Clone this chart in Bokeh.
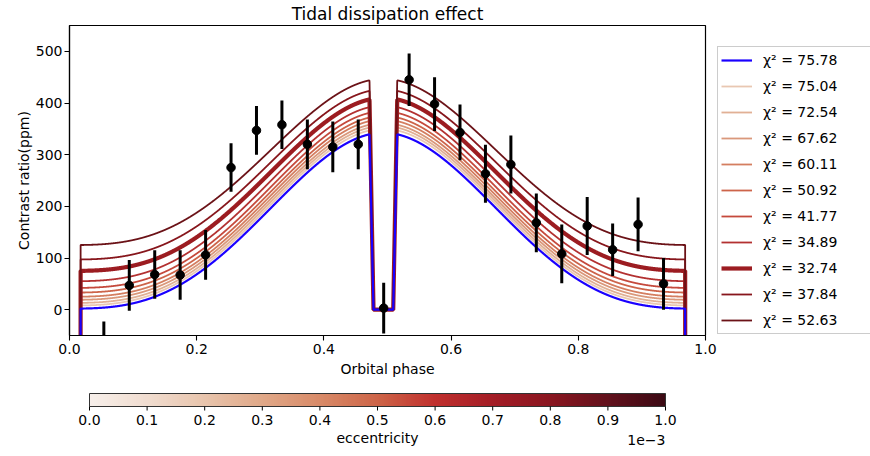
import numpy as np
from bokeh.plotting import figure
from bokeh.models import (Legend, LegendItem, FixedTicker, CustomJSTickFormatter,
                          Range1d, LinearColorMapper, Label)
from bokeh.core.properties import value
from bokeh.embed import file_html
from bokeh.resources import INLINE

# ---------------- data ----------------
obs_phase = [0.054, 0.094, 0.134, 0.174, 0.214, 0.254, 0.294, 0.334, 0.374, 0.414, 0.454,
             0.494, 0.534, 0.574, 0.614, 0.654, 0.694, 0.734, 0.774, 0.814, 0.854, 0.894, 0.934]
obs_ppm = [-73, 47, 68, 67, 106, 275, 347, 358, 320, 315, 320,
           3, 445, 398, 343, 263, 281, 168, 108, 162, 116, 165, 50]
obs_err = [50, 49, 47, 48, 48, 47, 47, 47, 48, 49, 48,
           49, 51, 52, 54, 56, 56, 57, 57, 56, 51, 52, 50]

chi2_labels = ["75.78", "75.04", "72.54", "67.62", "60.11", "50.92",
               "41.77", "34.89", "32.74", "37.84", "52.63"]
# nightside level (ppm) and level just before eclipse ingress (ppm) of each model curve
night_ppm = [2, 8, 13, 19, 25, 33, 42, 55, 75, 97, 125]
peak_ppm = [339.5, 347, 352.5, 358, 365, 372, 381, 392, 407, 423.5, 444]
line_colors = ["#1a00ff", "#e9c7b2", "#e1b095", "#da987b", "#d47e60", "#cd644a",
               "#c5493c", "#b33131", "#9c1c21", "#87161c", "#6b1217"]
line_widths = [2.2, 1.8, 1.8, 1.8, 1.8, 1.8, 1.8, 1.8, 4.2, 1.8, 1.8]

# orbital timing
ecl_center, ecl_half, ecl_flat_half = 0.4935, 0.0218, 0.0155
tr_center, tr_half, tr_flat_half, tr_depth = 0.99275, 0.02475, 0.019, 10000.0
peak_phase = 0.472

xticks = [0.0, 0.2, 0.4, 0.6, 0.8, 1.0]
yticks = [0, 100, 200, 300, 400, 500]
cb_ticks = [0.0, 0.1, 0.2, 0.3, 0.4, 0.5, 0.6, 0.7, 0.8, 0.9, 1.0]
cb_stops = ["#f7efea", "#f0dccf", "#e8c4ac", "#e0a888", "#d88a68", "#cd6448",
            "#c0302e", "#a41d26", "#8a1620", "#62111c", "#3c0a14"]

FONT = "DejaVu Sans"

# ---------------- model (Lambert phase curve + eclipse + transit) ----------------
def lambert(ph):
    a = 2 * np.pi * np.abs(((ph - (ecl_center - 0.5)) % 1.0) - 0.5)
    return (np.sin(a) + (np.pi - a) * np.cos(a)) / np.pi

grid = np.linspace(0.0, 1.0, 4001)
shape = lambert(grid) / lambert(np.array([peak_phase]))[0]
d_ecl = np.abs(grid - ecl_center)
ecl_fac = np.clip((d_ecl - ecl_flat_half) / (ecl_half - ecl_flat_half), 0, 1)
d_tr = np.abs(((grid - tr_center + 0.5) % 1.0) - 0.5)
tr_fac = np.clip((tr_half - d_tr) / (tr_half - tr_flat_half), 0, 1)

# ---------------- main figure ----------------
p = figure(frame_width=636, frame_height=310, min_border_left=69, min_border_right=165,
           min_border_top=25, min_border_bottom=45,
           x_range=Range1d(0, 1), y_range=Range1d(-50, 550),
           toolbar_location=None, output_backend="svg", title="Tidal dissipation effect")
p.title.align = "center"
p.title.text_font = FONT
p.title.text_font_size = "17px"
p.title.text_font_style = "normal"
p.title.text_color = "black"
p.title.standoff = 3
p.xgrid.visible = False
p.ygrid.visible = False
p.outline_line_color = "black"
p.outline_line_width = 1.2
p.outline_line_alpha = 1
p.background_fill_color = "white"
p.border_fill_color = "white"

p.xaxis.ticker = FixedTicker(ticks=xticks)
p.xaxis.formatter = CustomJSTickFormatter(code="return tick.toFixed(1)")
p.yaxis.ticker = FixedTicker(ticks=yticks)
for ax in (p.xaxis[0], p.yaxis[0]):
    ax.axis_line_color = "black"
    ax.axis_line_width = 1.2
    ax.major_tick_line_color = "black"
    ax.major_tick_line_width = 1.1
    ax.major_tick_out = 5
    ax.major_tick_in = 0
    ax.minor_tick_line_color = None
    ax.major_label_text_font = FONT
    ax.major_label_text_font_size = "14px"
    ax.major_label_text_color = "black"
    ax.axis_label_text_font = FONT
    ax.axis_label_text_font_size = "14px"
    ax.axis_label_text_font_style = "normal"
    ax.axis_label_text_color = "black"
p.xaxis.axis_label = "Orbital phase"
p.yaxis.axis_label = "Contrast ratio(ppm)"
p.xaxis.major_label_standoff = 3
p.xaxis.axis_label_standoff = 4
p.yaxis.major_label_standoff = 2
p.yaxis.axis_label_standoff = 1

renderers = [None] * len(chi2_labels)
order = list(range(1, len(chi2_labels))) + [0]   # blue model drawn on top
for i in order:
    flux = (night_ppm[i] + (peak_ppm[i] - night_ppm[i]) * shape) * ecl_fac - tr_depth * tr_fac
    renderers[i] = p.line(grid, flux, line_color=line_colors[i], line_width=line_widths[i])

lo = [v - e for v, e in zip(obs_ppm, obs_err)]
hi = [v + e for v, e in zip(obs_ppm, obs_err)]
p.segment(x0=obs_phase, y0=lo, x1=obs_phase, y1=hi, line_color="black", line_width=3)
p.scatter(obs_phase, obs_ppm, size=8.5, color="black")

items = [LegendItem(label="\u03c7\u00b2 = " + lab, renderers=[renderers[i]])
         for i, lab in enumerate(chi2_labels)]
legend = Legend(items=items, location=(12, 1), orientation="vertical",
                label_text_font=FONT, label_text_font_size="14px", label_text_color="black",
                glyph_width=31, glyph_height=20, label_height=20, label_width=108,
                spacing=6, padding=3, margin=0, label_standoff=11,
                border_line_color="#cccccc", border_line_width=1, border_line_alpha=1,
                background_fill_color="white", background_fill_alpha=1)
p.add_layout(legend, "right")

# ---------------- colorbar figure (drawn in pixel-like layout units) ----------------
def hex2rgb(h):
    return [int(h[k:k + 2], 16) for k in (1, 3, 5)]

stops = np.array([hex2rgb(c) for c in cb_stops], dtype=float)
pos = np.linspace(0, 1, len(cb_stops))
t = np.linspace(0, 1, 256)
palette = ["#%02x%02x%02x" % tuple(int(round(np.interp(tt, pos, stops[:, k]))) for k in range(3))
           for tt in t]

CB_W, CB_H = 870, 66
bar_left_px, bar_w_px = 89, 576
cb = figure(frame_width=CB_W, frame_height=CB_H, min_border=0,
            x_range=Range1d(-bar_left_px / bar_w_px, (CB_W - bar_left_px) / bar_w_px),
            y_range=Range1d(0, CB_H),
            toolbar_location=None, output_backend="svg")
cb.axis.visible = False
cb.xgrid.visible = False
cb.ygrid.visible = False
cb.outline_line_color = None
cb.background_fill_color = "white"
cb.border_fill_color = "white"

bar_y, bar_h = 40, 13
cb.image(image=[t.reshape(1, -1)], x=0, y=bar_y, dw=1, dh=bar_h,
         color_mapper=LinearColorMapper(palette=palette, low=0, high=1))
cb.quad(left=[0], right=[1], bottom=[bar_y], top=[bar_y + bar_h], fill_color=None,
        line_color="#333333", line_width=1)
cb.segment(x0=cb_ticks, y0=[bar_y] * len(cb_ticks), x1=cb_ticks, y1=[bar_y - 4] * len(cb_ticks),
           line_color="black", line_width=1)
cb.text(x=cb_ticks, y=[bar_y - 8] * len(cb_ticks), text=["%.1f" % v for v in cb_ticks],
        text_align="center", text_baseline="top", text_font=value(FONT),
        text_font_size=value("14px"), text_color="black")
cb.add_layout(Label(x=0.5, y=9, text="eccentricity", text_align="center", text_baseline="middle",
                    text_font=FONT, text_font_size="14px", text_color="black"))
cb.add_layout(Label(x=1.0, y=7, text="1e\u22123", text_align="right", text_baseline="middle",
                    text_font=FONT, text_font_size="14px", text_color="black"))

open("out.html", "w").write(file_html([p, cb], INLINE))
